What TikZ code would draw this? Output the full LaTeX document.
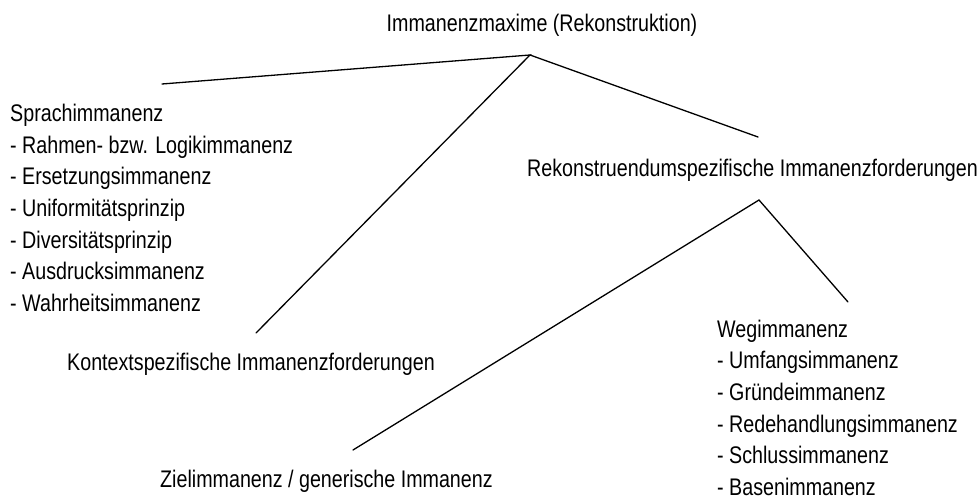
\documentclass[tikz,border=0pt]{standalone}
\usepackage{fontspec}
\setmainfont[FakeStretch=0.82]{Liberation Sans}
\usepackage{tikz}
\usetikzlibrary{positioning}

\tikzset{
  lbl/.style={inner sep=0pt, anchor=base west, align=left, font=\fontsize{24}{31.7}\selectfont},
  ast/.style={line width=1.3pt, line cap=round}
}

\begin{document}
\begin{tikzpicture}[x=1pt, y=-1pt]
\useasboundingbox (0,0) rectangle (980,500);
% Ueberschrift und Aeste
\node[lbl, anchor=base] (maxime) at (542,32) {Immanenzmaxime (Rekonstruktion)};
\coordinate (top) at (530,55);
\coordinate (spraEnd) at (162,84);
\coordinate (kontEnd) at (256,333);
\coordinate (rekoEnd) at (758,137);
\draw[ast] (spraEnd) -- (top) -- (kontEnd);
\draw[ast] (top) -- (rekoEnd);
% linke Seite (Listen: base = letzte Zeile)
\node[lbl] (sprache) at (10,311.5) {Sprachimmanenz\\- Rahmen- bzw. Logikimmanenz\\- Ersetzungsimmanenz\\- Uniformitätsprinzip\\- Diversitätsprinzip\\- Ausdrucksimmanenz\\- Wahrheitsimmanenz};
\node[lbl] (kontext) at (67,370) {Kontextspezifische Immanenzforderungen};
% rechte Seite
\node[lbl] (rekon) at (527,176) {Rekonstruendumspezifische Immanenzforderungen};
\coordinate (rtop) at (759,200);
\coordinate (zielEnd) at (353,450);
\coordinate (wegEnd) at (848,302);
\draw[ast] (zielEnd) -- (rtop) -- (wegEnd);
\node[lbl] (ziel) at (160,487) {Zielimmanenz / generische Immanenz};
\node[lbl] (weg) at (717,495.5) {Wegimmanenz\\- Umfangsimmanenz\\- Gründeimmanenz\\- Redehandlungsimmanenz\\- Schlussimmanenz\\- Basenimmanenz};
\end{tikzpicture}
\end{document}
